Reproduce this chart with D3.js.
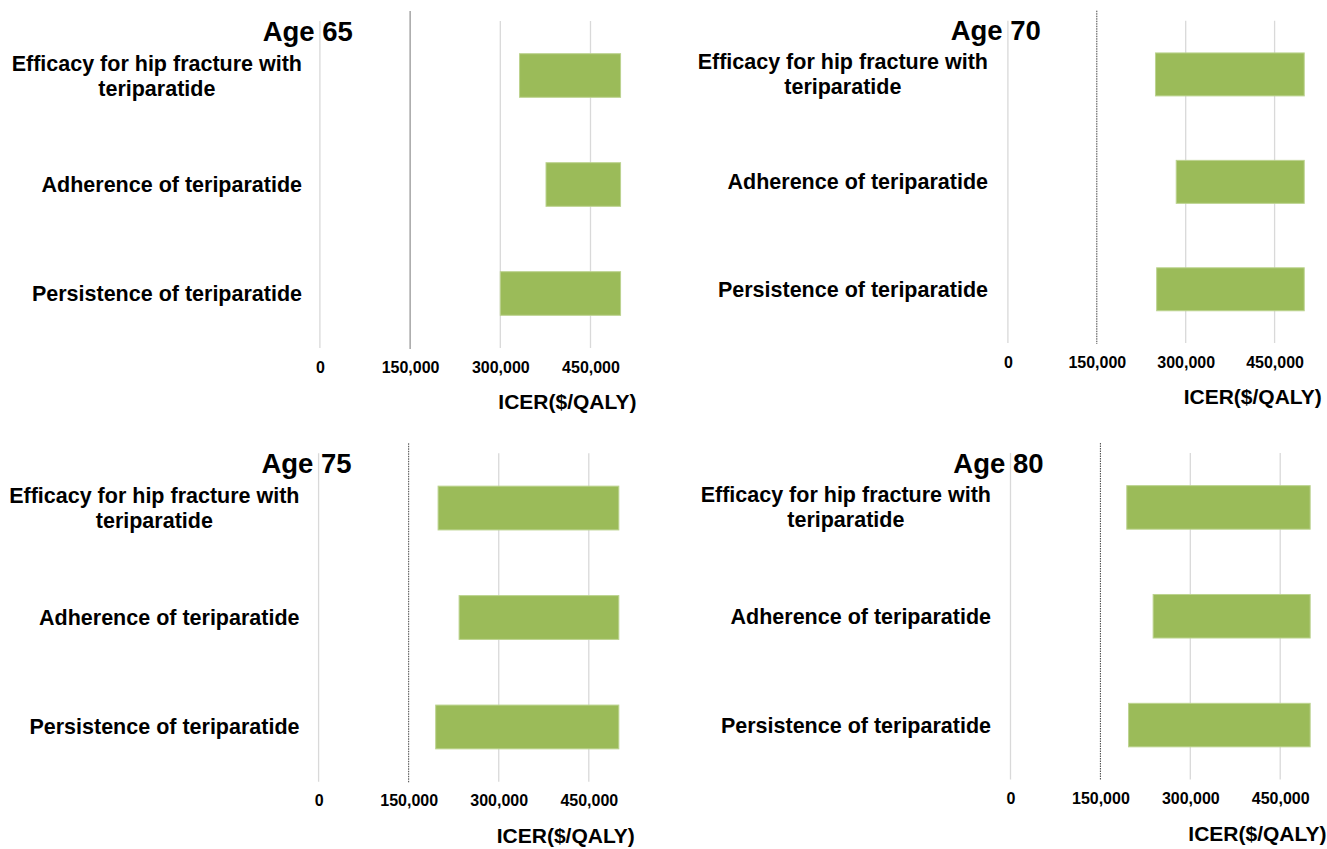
<!DOCTYPE html>
<html lang="en">
<head>
  <meta charset="UTF-8">
  <title>ICER tornado by age</title>
  <script src="https://d3js.org/d3.v7.min.js"></script>
  <style>
    body { margin: 0; background: #fff; overflow: hidden; }
    svg { display: block; }
    text { font-family: "Liberation Sans", Arial, sans-serif; font-weight: bold; fill: #000; }
  </style>
</head>
<body>
  <svg width="1327" height="849"></svg>

  <script>
    // data
    const categories = [
      ['Efficacy for hip fracture with', 'teriparatide'],
      ['Adherence of teriparatide'],
      ['Persistence of teriparatide']
    ];
    const ages = ['Age 65', 'Age 70', 'Age 75', 'Age 80'];
    const low65 = [332000, 376000, 300000];
    const low70 = [249000, 284000, 251000];
    const low75 = [199000, 234000, 195000];
    const low80 = [194000, 238000, 197000];
    const highValue = 500000;
    const threshold = 150000;
    const tickValues = [0, 150000, 300000, 450000];
    const axisTitle = 'ICER($/QALY)';

    // panel placement (pixels)
    const panels = [
      { lows: low65, x0: 319.9, x450: 590.5, top: 21, bottom: 348, labelRight: 302, dash: null },
      { lows: low70, x0: 1007.9, x450: 1274.6, top: 20.7, bottom: 343, labelRight: 988, dash: '1.5,1' },
      { lows: low75, x0: 318.6, x450: 588.8, top: 453.3, bottom: 781.7, labelRight: 299.5, dash: '1.5,1' },
      { lows: low80, x0: 1010.5, x450: 1280.2, top: 453, bottom: 779.5, labelRight: 991, dash: '1.5,1' }
    ];

    const svg = d3.select('svg');

    panels.forEach((p, i) => {
      const g = svg.append('g');
      const x = d3.scaleLinear().domain([0, 450000]).range([p.x0, p.x450]);
      const y = d3.scaleBand().domain(d3.range(categories.length))
        .range([p.top, p.bottom]).paddingInner(0.6).paddingOuter(0.3);

      // gridlines
      g.selectAll('line.grid').data(tickValues.filter(v => v !== threshold))
        .join('line').attr('class', 'grid')
        .attr('x1', d => x(d)).attr('x2', d => x(d))
        .attr('y1', p.top).attr('y2', p.bottom)
        .attr('stroke', '#d9d9d9').attr('stroke-width', 1.3);

      // threshold line
      g.append('line')
        .attr('x1', x(threshold)).attr('x2', x(threshold))
        .attr('y1', p.top - 10).attr('y2', p.bottom + 1)
        .attr('stroke', p.dash ? '#444' : '#777').attr('stroke-width', 1)
        .attr('stroke-dasharray', p.dash);

      // bars
      g.selectAll('rect').data(p.lows)
        .join('rect')
        .attr('x', d => x(d))
        .attr('width', d => x(highValue) - x(d))
        .attr('y', (d, j) => y(j))
        .attr('height', y.bandwidth())
        .attr('fill', '#9bbb59')
        .attr('stroke', '#bcd38f').attr('stroke-width', 1);

      // category labels
      categories.forEach((lines, j) => {
        const cy = y(j) + y.bandwidth() / 2;
        const t = g.append('text').attr('font-size', 21.5);
        if (lines.length === 1) {
          t.attr('x', p.labelRight).attr('y', cy).attr('dy', '0.35em')
            .attr('text-anchor', 'end').text(lines[0]);
        } else {
          const first = t.append('tspan').attr('x', p.labelRight).attr('y', cy - 12.5)
            .attr('dy', '0.35em').attr('text-anchor', 'end').text(lines[0]);
          const w = first.node().getComputedTextLength();
          t.append('tspan').attr('x', p.labelRight - w / 2).attr('y', cy + 12.5)
            .attr('dy', '0.35em').attr('text-anchor', 'middle').text(lines[1]);
        }
      });

      // x axis
      const axis = g.append('g')
        .attr('transform', `translate(0,${p.bottom})`)
        .call(d3.axisBottom(x).tickValues(tickValues).tickSize(0).tickFormat(d3.format(',')));
      axis.select('.domain').remove();
      axis.selectAll('text')
        .attr('y', 19).attr('dy', '0.35em')
        .attr('font-size', 16).attr('font-family', '"Liberation Sans", Arial, sans-serif')
        .attr('font-weight', 'bold').attr('fill', '#000');

      // axis title
      g.append('text')
        .attr('x', x(300000) - 2).attr('y', p.bottom + 54).attr('dy', '0.35em')
        .attr('font-size', 21).text(axisTitle);

      // panel title
      g.append('text')
        .attr('x', x(0) + 33).attr('y', p.top + 19.5)
        .attr('text-anchor', 'end').attr('font-size', 27.5).text(ages[i]);
    });
  </script>
</body>
</html>
